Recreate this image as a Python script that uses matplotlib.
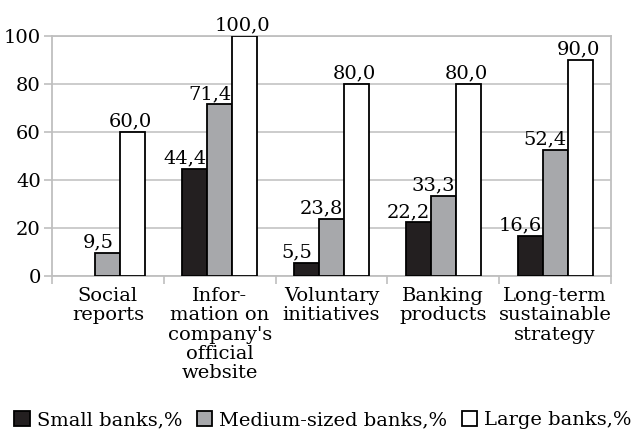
import numpy as np
import matplotlib
matplotlib.use("Agg")
import matplotlib.pyplot as plt

plt.rcParams['font.family'] = ['DejaVu Serif']

categories = ["Social\nreports", "Infor-\nmation on\ncompany's\nofficial\nwebsite",
              "Voluntary\ninitiatives", "Banking\nproducts", "Long-term\nsustainable\nstrategy"]
small = [0, 44.4, 5.5, 22.2, 16.6]
medium = [9.5, 71.4, 23.8, 33.3, 52.4]
large = [60.0, 100.0, 80.0, 80.0, 90.0]
series_names = ["Small banks,%", "Medium-sized banks,%", "Large banks,%"]
colors = ["#231f20", "#a7a8ab", "#ffffff"]

fig = plt.figure(figsize=(6.38, 4.30), dpi=100)
ax = fig.add_axes([0.0815, 0.3588, 0.8762, 0.5582])

x = np.arange(len(categories))
w = 0.224
fs = 14
label_dx = [-7, -7, -1.5]
for i, (vals, c, name) in enumerate(zip([small, medium, large], colors, series_names)):
    pos = x + (i - 1) * w
    heights = [v if v > 0 else np.nan for v in vals]
    ax.bar(pos, heights, w, color=c, edgecolor="black", linewidth=1.3,
           label=name, zorder=3)
    for xp, v in zip(pos, vals):
        if v == 0:
            continue
        ax.annotate(("%.1f" % v).replace(".", ","), (xp, v), xytext=(label_dx[i], 1),
                    textcoords="offset points", ha="center", va="bottom",
                    fontsize=fs, zorder=4)

ax.set_xlim(-0.5, len(categories) - 0.5)
ax.set_ylim(0, 100)
ax.set_yticks(range(0, 101, 20))
ax.tick_params(axis="y", labelsize=fs, length=6, color="#bfbfbf", width=1.2, pad=2)
ax.yaxis.grid(True, color="#c8c8c8", linewidth=1.3, zorder=0)

# category separators as ticks, labels at centres
ax.set_xticks(np.arange(-0.5, len(categories), 1.0))
ax.set_xticklabels([])
ax.tick_params(axis="x", which="major", length=6, color="#bfbfbf", width=1.2)
ax.set_xticks(x, minor=True)
ax.set_xticklabels(categories, minor=True, fontsize=fs, linespacing=1.1)
ax.tick_params(axis="x", which="minor", length=0, pad=8)

for s in ax.spines.values():
    s.set_color("#bfbfbf")
    s.set_linewidth(1.3)

fig.legend(loc="lower center", bbox_to_anchor=(0.506, -0.025), ncol=3, frameon=False,
           fontsize=fs, handlelength=0.8, handleheight=0.8, handletextpad=0.35,
           columnspacing=0.75, borderaxespad=0.2)

fig.savefig("out.png", dpi=100)
